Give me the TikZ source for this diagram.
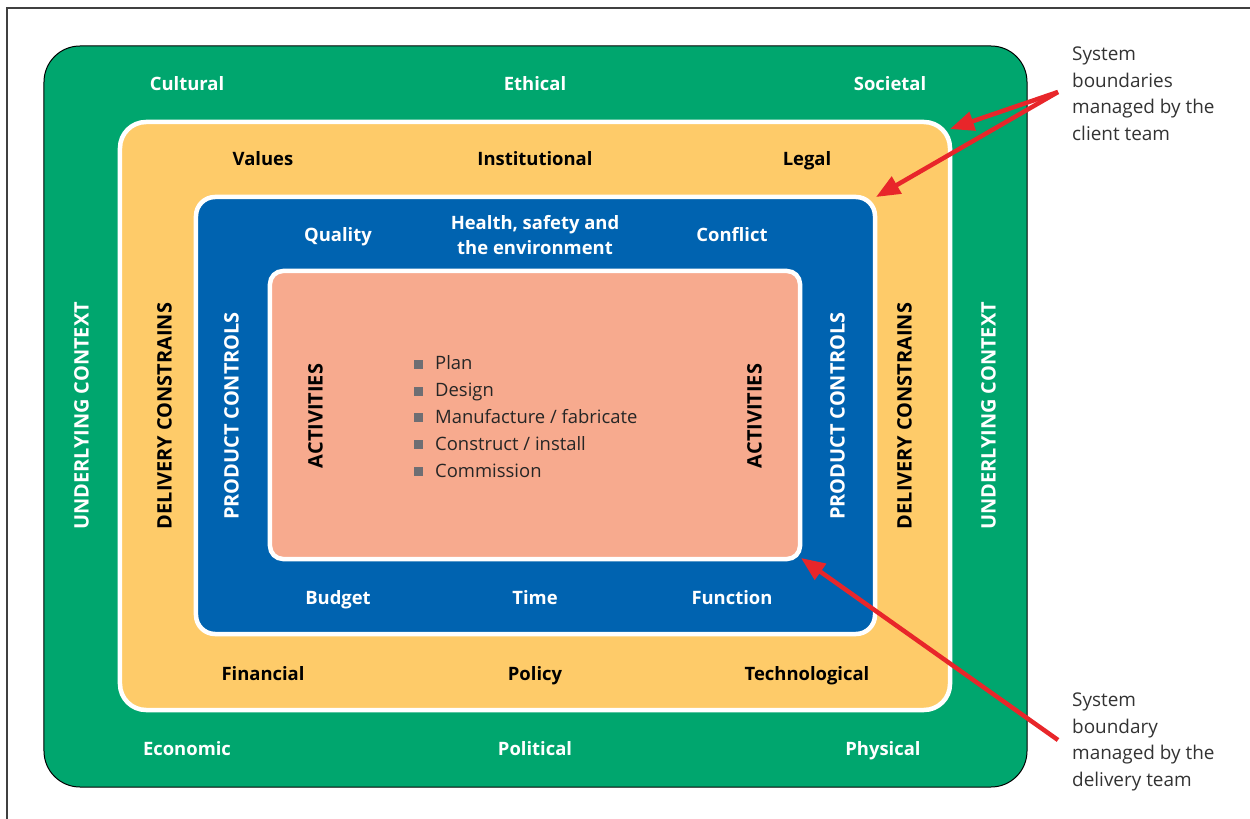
\documentclass[tikz,border=0pt]{standalone}
\usepackage{fontspec}
\setmainfont{Open Sans}
\usetikzlibrary{arrows.meta,positioning}
\definecolor{ctxgreen}{RGB}{0,166,110}
\definecolor{dlvyellow}{RGB}{254,203,105}
\definecolor{ctrlblue}{RGB}{0,99,176}
\definecolor{actsalmon}{RGB}{247,170,142}
\definecolor{arrowred}{RGB}{232,38,42}
\definecolor{bulletgray}{RGB}{110,110,115}
\newcommand{\lblfont}{\fontsize{18.5}{26}\selectfont\bfseries}
\newcommand{\bul}{\textcolor{bulletgray}{\rule[1bp]{9bp}{9bp}}\hspace{12bp}}

\begin{document}
\begin{tikzpicture}[x=1bp,y=-1bp,
	box/.style={draw=white, line width=4.5bp, inner sep=0pt},
	whitelbl/.style={font=\lblfont, text=white, align=center, text height=13bp, text depth=0bp},
	blacklbl/.style={font=\lblfont, text=black, align=center, text height=13bp, text depth=0bp},
	side/.style={rotate=90, font=\fontsize{20}{24}\selectfont\bfseries},
	note/.style={font=\fontsize{19}{26.5}\selectfont, text=black!80, align=left, anchor=north west, inner sep=0pt},
	pointer/.style={draw=arrowred, line width=4.5bp, -{Triangle[length=24bp,width=19bp]}}]
	\useasboundingbox (0,0) rectangle (1250,819);
	\draw[line width=1.5bp, black!75] (7,819) -- (7,8) -- (1250,8);

	\node[box, draw=black, line width=1bp, fill=ctxgreen, rounded corners=36bp, minimum width=983bp, minimum height=741bp] (context) at (535.5,416.5) {};
	\node[box, fill=dlvyellow, rounded corners=26bp, minimum width=830bp, minimum height=588bp] (delivery) at (535,416) {};
	\node[box, fill=ctrlblue, rounded corners=19bp, minimum width=679bp, minimum height=437bp] (controls) at (535.5,415.5) {};
	\node[box, fill=actsalmon, rounded corners=13bp, minimum width=530bp, minimum height=288bp] (activities) at (535,415) {};

	\node[whitelbl] (cultural) at (187,84) {Cultural};
	\node[whitelbl] (ethical) at (535,84) {Ethical};
	\node[whitelbl] (societal) at (890,84) {Societal};
	\node[whitelbl] (economic) at (187,749) {Economic};
	\node[whitelbl] (political) at (535,749) {Political};
	\node[whitelbl] (physical) at (883,749) {Physical};
	\node[whitelbl, side] (ctxleft) at (82,416) {UNDERLYING CONTEXT};
	\node[whitelbl, side] (ctxright) at (989,416) {UNDERLYING CONTEXT};

	\node[blacklbl] (values) at (263,159) {Values};
	\node[blacklbl] (institutional) at (535,159) {Institutional};
	\node[blacklbl] (legal) at (807,159) {Legal};
	\node[blacklbl] (financial) at (263,674) {Financial};
	\node[blacklbl] (policy) at (535,674) {Policy};
	\node[blacklbl] (technological) at (807,674) {Technological};
	\node[blacklbl, side] (dlvleft) at (165,416) {DELIVERY CONSTRAINS};
	\node[blacklbl, side] (dlvright) at (905,416) {DELIVERY CONSTRAINS};

	\node[whitelbl] (quality) at (338,235) {Quality};
	\node[font=\lblfont, text=white, align=center] (hse) at (535,235) {Health, safety and\\the environment};
	\node[whitelbl] (conflict) at (732,235) {Conflict};
	\node[whitelbl] (budget) at (338,598) {Budget};
	\node[whitelbl] (time) at (535,598) {Time};
	\node[whitelbl] (function) at (732,598) {Function};
	\node[whitelbl, side] (ctrlleft) at (232,416) {PRODUCT CONTROLS};
	\node[whitelbl, side] (ctrlright) at (838,416) {PRODUCT CONTROLS};

	\node[blacklbl, side] (actleft) at (316,416) {ACTIVITIES};
	\node[blacklbl, side] (actright) at (755,416) {ACTIVITIES};
	\foreach \stage [count=\i] in {Plan, Design, Manufacture / fabricate, Construct / install, Commission}
		\node[font=\fontsize{18.5}{23}\selectfont, text=black!85, anchor=west, inner sep=0pt, text height=14bp, text depth=0bp] (stage\i) at (414,336+26.8*\i) {\bul\stage};

	\node[note] (clientnote) at (1072,47) {System\\boundaries\\managed by the\\client team};
	\node[note] (deliverynote) at (1072,693) {System\\boundary\\managed by the\\delivery team};

	\coordinate (clienttail) at (1058,92);
	\coordinate (deliverytail) at (1058,740);
	\coordinate (dlvtip) at (950,129);
	\coordinate (ctrltip) at (876,197);
	\coordinate (acttip) at (801,558);
	\draw[pointer] (clienttail) -- (dlvtip);
	\draw[pointer] (clienttail) -- (ctrltip);
	\draw[pointer] (deliverytail) -- (acttip);
\end{tikzpicture}
\end{document}
